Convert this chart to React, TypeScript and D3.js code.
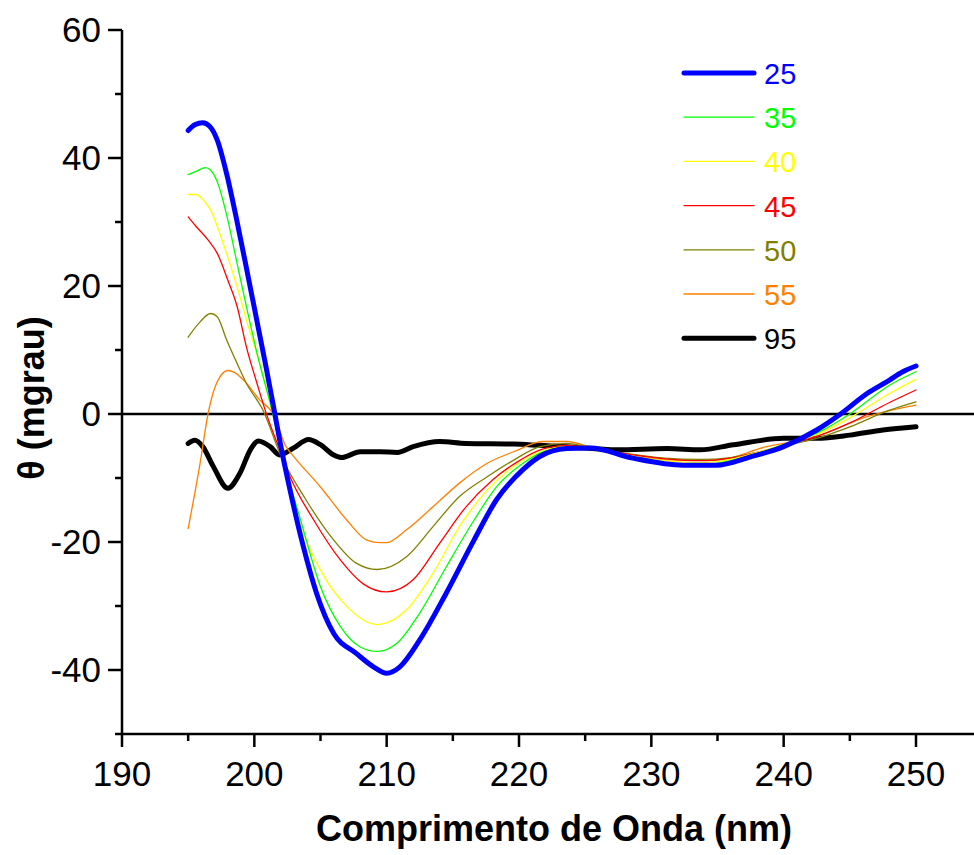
import React from "react";
import * as d3 from "d3";

type Pt = [number, number];

const s25: Pt[] = [[195,44.3],[195.5,45.2],[196.1,45.5],[196.6,45.0],[197.2,42.8],[197.9,37.6],[198.7,30],[199.5,21.8],[200.2,14.5],[200.9,7.2],[201.5,0.6],[202,-5],[202.7,-11.9],[203.7,-20.7],[204.7,-28],[206,-34.3],[207.7,-37.4],[209,-39.5],[210,-40.5],[211,-39.5],[212.5,-35.3],[214.5,-28],[216.6,-19.7],[218.3,-13.4],[220.3,-8.7],[221.6,-6.6],[223.6,-5.4],[225.4,-5.3],[228.6,-6.9],[232.4,-8.0],[234.9,-8.0],[237.5,-6.7],[240,-5.1],[242.5,-2.5],[244.3,0],[246.3,3.2],[248,5.3],[249,6.6],[250,7.5]];
const s35: Pt[] = [[195,37.4],[195.6,37.9],[196.3,38.5],[196.7,38.1],[197.2,36.3],[198,30.3],[198.7,23.5],[199.4,16.8],[200.2,9.5],[201.4,0],[202,-5.6],[203.5,-16.6],[205,-27],[206.5,-33.2],[208,-36.4],[209.3,-37.1],[210.8,-35.8],[212.5,-31.1],[214.5,-23.9],[216.6,-16.6],[218.3,-11.4],[220.3,-7.7],[221.6,-6.1],[223.6,-5.3],[225.5,-5.3],[228.6,-6.7],[231,-7.6],[233.7,-8.0],[236,-7.3],[238,-6.2],[240,-4.8],[242.5,-3.0],[245,0],[248,4.5],[250,6.6]];
const s40: Pt[] = [[195,34.3],[195.6,34.3],[196.2,33.3],[196.7,31.9],[197.2,29.3],[197.9,25.1],[198.7,19.9],[199.4,14.7],[200.4,8.0],[201.4,0],[202,-5.2],[203.2,-15.5],[205,-24.4],[207,-30.1],[209.3,-32.9],[211.5,-30.6],[213.5,-24.9],[215.5,-17.6],[217.6,-11.9],[219.6,-8.2],[221.6,-5.9],[223.6,-5.1],[225.5,-5.3],[228.6,-6.6],[231,-7.3],[233.7,-7.6],[236,-7.1],[238,-6.0],[240,-4.8],[242.5,-3.2],[245,-0.6],[248,3.2],[250,5.4]];
const s45: Pt[] = [[195,30.8],[195.6,29.3],[196.5,27.2],[197.2,25.1],[198,20.9],[198.7,16.8],[199.4,10.5],[200.2,4.8],[200.9,0.1],[202,-6.0],[202.7,-9.8],[204.5,-16.6],[206.5,-22.8],[208.2,-26.5],[210,-27.8],[212,-25.9],[214,-20.2],[216,-14.5],[218,-10.3],[220.1,-7.2],[221.6,-5.6],[223.6,-4.9],[225.5,-5.3],[228.6,-6.4],[231,-7.0],[233.7,-7.3],[236,-6.9],[238,-6.0],[240,-4.9],[242.5,-3.5],[245,-1.4],[248,1.8],[250,3.75]];
const s50: Pt[] = [[195,12],[195.9,14.4],[196.7,15.7],[197.2,15.2],[197.9,11.6],[198.7,7.9],[199.4,4.8],[200.7,0.4],[201.9,-6.0],[203.9,-13.4],[206,-19.7],[207.7,-23.3],[209.3,-24.3],[211.5,-22.3],[213.5,-17.6],[215.5,-12.9],[217.6,-9.8],[219.6,-7.2],[221.6,-5.1],[223.6,-4.6],[225.5,-5.3],[228.6,-6.3],[231,-6.9],[233.7,-7.1],[236,-6.8],[238,-6.0],[240,-5.0],[242.5,-3.8],[245,-2.0],[248,0.6],[250,1.9]];
const s55: Pt[] = [[195,-17.9],[195.9,-7.7],[196.5,0],[196.8,2.7],[197.4,5.8],[198,6.8],[198.5,6.5],[199.4,4.8],[200.4,2.2],[201.4,0.1],[202.4,-5.1],[203,-6.7],[205,-11.4],[207,-16.6],[208.5,-19.7],[209.5,-20.1],[210,-20.1],[211.5,-18.1],[213.5,-14.5],[215.5,-10.8],[217.6,-7.7],[219.6,-5.9],[221.8,-4.3],[223.6,-4.3],[225.6,-5.3],[228.6,-6.5],[231.2,-7.2],[234.9,-7.2],[238.7,-5.1],[242.5,-3.5],[246.3,-0.4],[250,1.4]];
const s95: Pt[] = [[195,-4.6],[195.5,-4.1],[196.1,-5.1],[196.9,-8.2],[198,-11.6],[198.9,-9.3],[199.7,-5.6],[200.3,-4.2],[201.2,-5.1],[201.9,-6.4],[202.9,-5.4],[204.1,-4.0],[205,-4.8],[206,-6.4],[206.6,-6.8],[208,-5.9],[209.5,-5.9],[210.8,-6.0],[212,-5.1],[214,-4.3],[216,-4.6],[219.6,-4.7],[221.6,-4.9],[223.6,-5.1],[227.4,-5.6],[231.2,-5.4],[233.7,-5.6],[236.2,-4.8],[240,-3.8],[242.5,-3.8],[245,-3.3],[247.5,-2.5],[250,-2.0]];

const seriesLabels = ["25", "35", "40", "45", "50", "55", "95"];
const seriesData = [s25, s35, s40, s45, s50, s55, s95];
const seriesColors = ["#0000ff", "#00ff00", "#ffff00", "#ff0000", "#808000", "#ff8000", "#000000"];
const seriesWidths = [5, 1.3, 1.3, 1.3, 1.3, 1.3, 5];

const xMajor = [190, 200, 210, 220, 230, 240, 250];
const xMinor = [195, 205, 215, 225, 235, 245];
const yMajor = [-40, -20, 0, 20, 40, 60];
const yMinor = [-50, -30, -10, 10, 30, 50];

const FONT = "'Liberation Sans', Arial, Helvetica, sans-serif";

export default function App() {
  const W = 974, H = 855;
  const x = d3.scaleLinear().domain([190, 250]).range([122, 916]);
  const y = d3.scaleLinear().domain([-50, 60]).range([734, 30]);
  const line = d3.line<Pt>().x(d => x(d[0])).y(d => y(d[1])).curve(d3.curveMonotoneX);
  const axisY = y(-50);
  const axisX = x(190);
  const order = [6, 5, 4, 3, 2, 1, 0];
  return (
    <svg width={W} height={H} style={{ position: "absolute", left: 0, top: 0, background: "#fff" }}>
      <rect x={0} y={0} width={W} height={H} fill="#fff" />
      <line x1={axisX} x2={W} y1={y(0)} y2={y(0)} stroke="#000" strokeWidth={2.5} />
      {order.map(i => (
        <path key={i} d={line(seriesData[i]) || ""} fill="none" stroke={seriesColors[i]} strokeWidth={seriesWidths[i]} strokeLinejoin="round" strokeLinecap="round" />
      ))}
      <line x1={axisX} x2={axisX} y1={y(60)} y2={axisY + 1} stroke="#000" strokeWidth={2.5} />
      <line x1={axisX - 1} x2={W} y1={axisY} y2={axisY} stroke="#000" strokeWidth={2.5} />
      {xMajor.map(t => (
        <g key={"xM" + t}>
          <line x1={x(t)} x2={x(t)} y1={axisY} y2={axisY + 13} stroke="#000" strokeWidth={2.5} />
          <text x={x(t)} y={axisY + 52} textAnchor="middle" fontFamily={FONT} fontSize={35} fill="#000">{t}</text>
        </g>
      ))}
      {xMinor.map(t => (
        <line key={"xm" + t} x1={x(t)} x2={x(t)} y1={axisY} y2={axisY + 7} stroke="#000" strokeWidth={2.5} />
      ))}
      {yMajor.map(t => (
        <g key={"yM" + t}>
          <line x1={axisX - 14} x2={axisX} y1={y(t)} y2={y(t)} stroke="#000" strokeWidth={2.5} />
          <text x={axisX - 21} y={y(t) + 12} textAnchor="end" fontFamily={FONT} fontSize={35} fill="#000">{t}</text>
        </g>
      ))}
      {yMinor.map(t => (
        <line key={"ym" + t} x1={axisX - 7} x2={axisX} y1={y(t)} y2={y(t)} stroke="#000" strokeWidth={2.5} />
      ))}
      <text x={554} y={841} textAnchor="middle" fontFamily={FONT} fontSize={36} fontWeight="bold" fill="#000">Comprimento de Onda (nm)</text>
      <text transform={`translate(44, 398) rotate(-90)`} textAnchor="middle" fontFamily={FONT} fontSize={36} fontWeight="bold" fill="#000">θ (mgrau)</text>
      {seriesLabels.map((lab, i) => {
        const ly = 73 + i * 44.2;
        return (
          <g key={"lg" + lab}>
            <line x1={684} x2={754} y1={ly} y2={ly} stroke={seriesColors[i]} strokeWidth={seriesWidths[i] === 5 ? 5 : 1.3} strokeLinecap="round" />
            <text x={764} y={ly + 11} fontFamily={FONT} fontSize={29} fill={seriesColors[i]}>{lab}</text>
          </g>
        );
      })}
    </svg>
  );
}
